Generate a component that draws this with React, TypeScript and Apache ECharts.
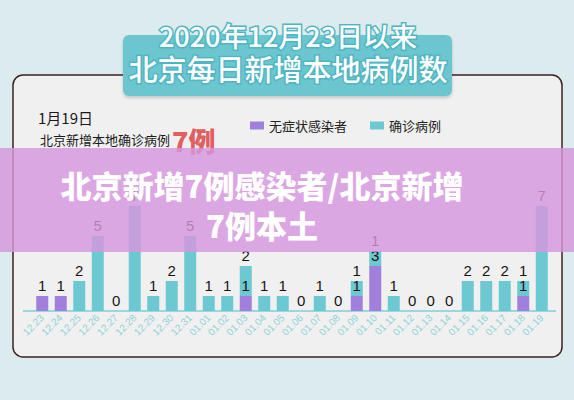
import React, { useEffect, useRef } from "react";
import * as echarts from "echarts";

const categories = [
  "12.23", "12.24", "12.25", "12.26", "12.27", "12.28", "12.29", "12.30", "12.31",
  "01.01", "01.02", "01.03", "01.04", "01.05", "01.06", "01.07", "01.08", "01.09",
  "01.10", "01.11", "01.12", "01.13", "01.14", "01.15", "01.16", "01.17", "01.18", "01.19",
];
const asymptomatic: (number | string)[] = [
  1, 1, "-", "-", "-", "-", "-", "-", "-",
  "-", "-", 1, "-", "-", "-", "-", "-", 1,
  3, "-", "-", "-", "-", "-", "-", "-", 1, "-",
];
const confirmed: (number | string)[] = [
  "-", "-", 2, 5, 0, 7, 1, 2, 5,
  1, 1, 2, 1, 1, 0, 1, 0, 1,
  1, 1, 0, 0, 0, 2, 2, 2, 1, 7,
];
const seriesNames = ["无症状感染者", "确诊病例"];
const titleLine1 = "2020年12月23日以来";
const titleLine2 = "北京每日新增本地病例数";
const dateText = "1月19日";
const subText = "北京新增本地确诊病例";
const bigText = "7例";
const overlayLine1 = "北京新增7例感染者/北京新增";
const overlayLine2 = "7例本土";

const TEAL = "#6dc9d1";
const PURPLE = "#a080da";
const CJK = '"Noto Sans CJK SC", "Noto Sans", sans-serif';

export default function App() {
  const ref = useRef<HTMLDivElement>(null);
  useEffect(() => {
    document.body.style.margin = "0";
    const chart = echarts.init(ref.current!, null, { renderer: "svg" });
    const labelStyle = {
      show: true,
      position: "top" as const,
      distance: 3,
      color: "#151515",
      fontSize: 15,
      lineHeight: 15,
      fontFamily: '"Liberation Sans", Arial, sans-serif',
    };
    chart.setOption({
      animation: false,
      backgroundColor: "#dcebee",
      legend: {
        left: 245,
        top: 114,
        itemWidth: 14,
        itemHeight: 8,
        itemGap: 23,
        icon: "rect",
        textStyle: { fontSize: 13, color: "#222", fontFamily: CJK },
        data: seriesNames,
      },
      grid: { left: 33, right: 23, top: 161, bottom: 89 },
      xAxis: {
        type: "category",
        data: categories,
        axisLine: { show: false },
        axisTick: { show: false },
        axisLabel: {
          rotate: 45,
          interval: 0,
          margin: 5,
          color: "#8fd3d8",
          fontSize: 10,
          fontFamily: '"Liberation Sans", Arial, sans-serif',
        },
      },
      yAxis: {
        type: "value",
        min: 0,
        max: 10,
        show: false,
        splitLine: { show: false },
      },
      series: [
        {
          name: seriesNames[0],
          type: "bar",
          stack: "total",
          data: asymptomatic,
          barWidth: 12,
          itemStyle: { color: PURPLE },
          label: labelStyle,
          z: 2,
        },
        {
          name: seriesNames[1],
          type: "bar",
          stack: "total",
          data: confirmed,
          barWidth: 12,
          itemStyle: { color: TEAL },
          label: labelStyle,
          z: 2,
        },
      ],
      graphic: [
        {
          type: "rect",
          z: -10,
          shape: { x: 13, y: 75, width: 549, height: 282, r: 10 },
          style: { fill: "#f0f0f0", stroke: "#3e2222", lineWidth: 1.5 },
        },
        {
          type: "line",
          z: 1,
          shape: { x1: 23, y1: 311, x2: 556, y2: 311 },
          style: { stroke: "#7fcfd6", lineWidth: 1.5 },
        },
        {
          type: "rect",
          z: 5,
          shape: { x: 123, y: 35, width: 329, height: 61, r: 6 },
          style: {
            fill: "#6cc6d0",
            shadowColor: "rgba(0,0,0,0.18)",
            shadowBlur: 3,
            shadowOffsetY: 2,
          },
        },
        {
          type: "text",
          z: 6,
          x: 288,
          y: 35,
          style: {
            text: titleLine1,
            fill: "#ffffff",
            stroke: "#4fb5c2",
            lineWidth: 3,
            font: `500 27px ${CJK}`,
            lineHeight: 27,
            align: "center",
            verticalAlign: "middle",
          },
        },
        {
          type: "text",
          z: 6,
          x: 288,
          y: 68,
          style: {
            text: titleLine2,
            fill: "#ffffff",
            stroke: "#4fb5c2",
            lineWidth: 3,
            font: `500 29px ${CJK}`,
            lineHeight: 29,
            align: "center",
            verticalAlign: "middle",
          },
        },
        {
          type: "text",
          z: 6,
          x: 38,
          y: 117,
          style: {
            text: dateText,
            fill: "#1a1a1a",
            font: `400 15px ${CJK}`,
            lineHeight: 16,
            verticalAlign: "middle",
          },
        },
        {
          type: "text",
          z: 6,
          x: 40,
          y: 139,
          style: {
            text: subText,
            fill: "#1a1a1a",
            font: `400 13px ${CJK}`,
            lineHeight: 14,
            verticalAlign: "middle",
          },
        },
        {
          type: "text",
          z: 6,
          x: 172,
          y: 140,
          style: {
            text: bigText,
            fill: "#e05f5f",
            font: `900 27px ${CJK}`,
            lineHeight: 27,
            verticalAlign: "middle",
          },
        },
        {
          type: "rect",
          z: 100,
          shape: { x: 0, y: 148, width: 574, height: 104 },
          style: { fill: "rgba(214,150,222,0.82)" },
        },
        {
          type: "text",
          z: 101,
          x: 262,
          y: 184,
          style: {
            text: overlayLine1,
            fill: "#ffffff",
            font: `900 31px ${CJK}`,
            lineHeight: 31,
            align: "center",
            verticalAlign: "middle",
          },
        },
        {
          type: "text",
          z: 101,
          x: 262,
          y: 224,
          style: {
            text: overlayLine2,
            fill: "#ffffff",
            font: `900 31px ${CJK}`,
            lineHeight: 31,
            align: "center",
            verticalAlign: "middle",
          },
        },
      ],
    });
    return () => chart.dispose();
  }, []);
  return <div ref={ref} style={{ width: 574, height: 400 }} />;
}
